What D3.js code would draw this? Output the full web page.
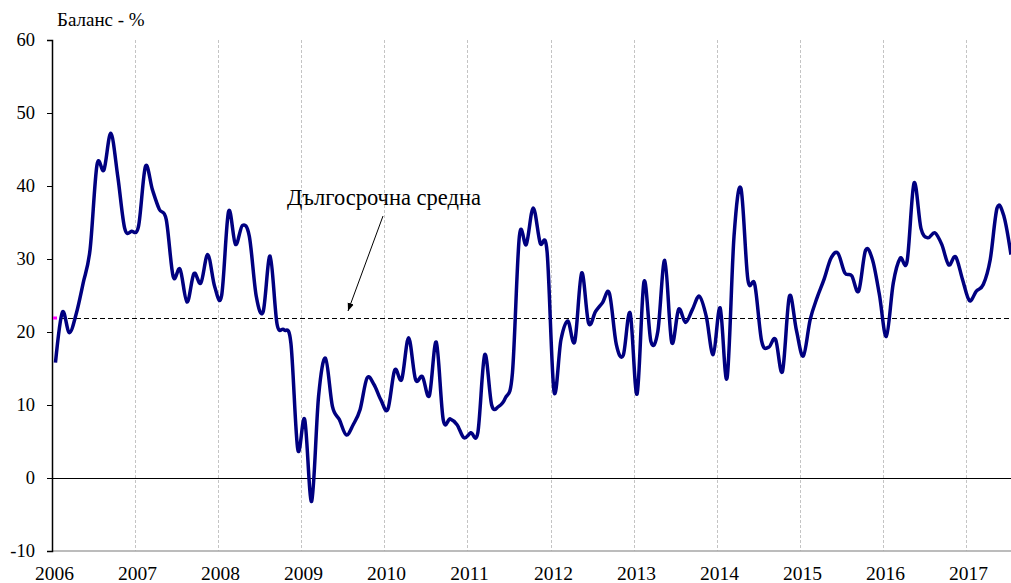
<!DOCTYPE html>
<html>
<head>
<meta charset="utf-8">
<script src="https://cdn.jsdelivr.net/npm/d3@7"></script>
<style>
  body { margin: 0; background: #fff; }
  text { font-family: "Liberation Serif", "DejaVu Serif", serif; fill: #000; }
</style>
</head>
<body>
<svg id="chart" width="1011" height="583"></svg>
<script>
// monthly balance, Jan 2006 - Jul 2017
var balance = [
  15.8, 22.7, 19.9, 22.5, 26.7, 31.3, 42.9, 42.2, 47.2, 41.3, 34.2, 33.8,
  34.5, 42.7, 39.5, 36.8, 35.4, 27.6, 28.6, 24.1, 28.0, 26.7, 30.6, 26.2,
  25.0, 36.5, 32.0, 34.6, 33.1, 24.9, 22.8, 30.4, 21.1, 20.3, 18.5, 3.9,
  8.0, -3.2, 11.2, 16.4, 9.8, 8.0, 5.9, 7.3, 9.4, 13.7, 12.8, 10.7,
  9.4, 14.8, 13.5, 19.2, 13.5, 13.9, 11.3, 18.6, 8.0, 8.1, 7.3, 5.5,
  6.2, 6.2, 16.9, 10.0, 9.8, 11.0, 14.4, 33.1, 32.0, 37.0, 32.2, 31.0,
  11.9, 18.9, 21.5, 18.7, 28.1, 21.2, 22.8, 24.0, 25.3, 18.3, 16.8, 22.6,
  11.5, 26.9, 18.7, 20.1, 29.8, 18.6, 23.1, 21.3, 23.1, 24.9, 22.1, 16.9,
  23.3, 13.7, 33.1, 39.7, 27.2, 26.5, 18.7, 17.9, 19.0, 14.6, 24.9, 20.3,
  16.7, 21.7, 24.7, 27.2, 30.1, 30.8, 28.1, 27.7, 25.6, 31.2, 29.9, 25.1,
  19.4, 26.7, 30.1, 29.7, 40.4, 34.2, 32.9, 33.6, 32.0, 29.2, 30.3, 27.2,
  24.3, 25.6, 26.5, 29.9, 37.0, 35.8, 30.6
];
var longTermAvg = 21.9;
var years = [2006, 2007, 2008, 2009, 2010, 2011, 2012, 2013, 2014, 2015, 2016, 2017];
var yTicks = [-10, 0, 10, 20, 30, 40, 50, 60];

var plotLeft = 52, plotTop = 40, plotBottom = 551, plotRight = 1011;
var monthW = 6.924;

var svg = d3.select("#chart");

var x = d3.scaleLinear()
    .domain([-0.5, balance.length - 0.5])
    .range([plotLeft, plotLeft + balance.length * monthW]);

var y = d3.scaleLinear()
    .domain([-10, 60])
    .range([plotBottom, plotTop]);

function yearX(yr) { return Math.round(x((yr - 2006) * 12 - 0.5)) + 0.5; }
function crispY(v) { return Math.round(y(v)) + 0.5; }

// year gridlines
svg.append("g").selectAll("line")
    .data(years.slice(1))
    .enter().append("line")
    .attr("x1", function(d) { return yearX(d); })
    .attr("x2", function(d) { return yearX(d); })
    .attr("y1", plotTop)
    .attr("y2", plotBottom)
    .attr("stroke", "#c4c4c4")
    .attr("stroke-width", 1)
    .attr("stroke-dasharray", "3,2");

// bottom axis line
svg.append("line")
    .attr("x1", plotLeft).attr("x2", plotRight)
    .attr("y1", plotBottom).attr("y2", plotBottom)
    .attr("stroke", "#a6a6a6").attr("stroke-width", 1.5);

// zero line
svg.append("line")
    .attr("x1", plotLeft).attr("x2", plotRight)
    .attr("y1", crispY(0)).attr("y2", crispY(0))
    .attr("stroke", "#000").attr("stroke-width", 1);

// y axis
var yAxis = d3.axisLeft(y)
    .tickValues(yTicks)
    .tickSize(5)
    .tickPadding(12)
    .tickFormat(function(d) { return String(d); });

var gy = svg.append("g")
    .attr("transform", "translate(" + plotLeft + ",0)")
    .call(yAxis);
gy.select(".domain").attr("stroke", "#000").attr("stroke-width", 1.5);
gy.selectAll(".tick line").attr("stroke", "#000");
gy.selectAll("text")
    .attr("font-family", null)
    .attr("font-size", null)
    .style("font-size", "18.5px")
    .attr("fill", "#000");

// x labels
svg.append("g").selectAll("text")
    .data(years)
    .enter().append("text")
    .attr("x", function(d) { return yearX(d) + 2; })
    .attr("y", 580)
    .attr("text-anchor", "middle")
    .style("font-size", "19.5px")
    .text(function(d) { return d; });

// long-term average
svg.append("line")
    .attr("x1", plotLeft).attr("x2", plotRight)
    .attr("y1", crispY(longTermAvg)).attr("y2", crispY(longTermAvg))
    .attr("stroke", "#000").attr("stroke-width", 1)
    .attr("stroke-dasharray", "5,3");

svg.append("rect")
    .attr("x", plotLeft + 1).attr("y", crispY(longTermAvg) - 2)
    .attr("width", 4).attr("height", 3)
    .attr("fill", "#ff00ff");

// data line
var line = d3.line()
    .x(function(d, i) { return x(i); })
    .y(function(d) { return y(d); })
    .curve(d3.curveCardinal.tension(0));

svg.append("path")
    .datum(balance)
    .attr("fill", "none")
    .attr("stroke", "#000080")
    .attr("stroke-width", 3.5)
    .attr("stroke-linejoin", "round")
    .attr("d", line);

// annotation
svg.append("defs").append("marker")
    .attr("id", "arrow")
    .attr("viewBox", "0 0 10 10")
    .attr("refX", 10).attr("refY", 5)
    .attr("markerWidth", 8).attr("markerHeight", 8)
    .attr("orient", "auto")
    .append("path")
    .attr("d", "M0,1 L10,5 L0,9 Z")
    .attr("fill", "#000");

svg.append("line")
    .attr("x1", 383).attr("y1", 216)
    .attr("x2", 348).attr("y2", 311)
    .attr("stroke", "#000").attr("stroke-width", 1)
    .attr("marker-end", "url(#arrow)");

svg.append("text")
    .attr("x", 287).attr("y", 205)
    .style("font-size", "22.5px")
    .text("Дългосрочна средна");

svg.append("text")
    .attr("x", 57).attr("y", 26)
    .style("font-size", "19px")
    .text("Баланс - %");
</script>
</body>
</html>
